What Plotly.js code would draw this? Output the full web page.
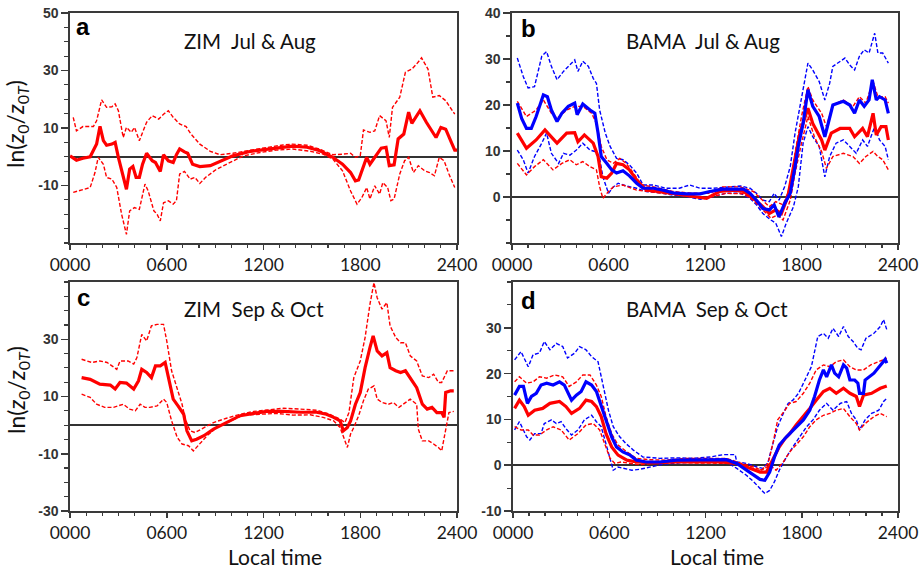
<!DOCTYPE html>
<html><head><meta charset="utf-8">
<script src="https://cdn.plot.ly/plotly-3.0.1.min.js"></script>
<style>html,body{margin:0;padding:0;background:#fff}#chart{width:919px;height:571px}</style>
</head><body><div id="chart"></div>
<script>
// ---------- axis tick labels ----------
const timeTickVals = [0, 6, 12, 18, 24];
const timeTickText = ["0000", "0600", "1200", "1800", "2400"];
const yTicksA = [-10, 10, 30, 50];
const yTicksB = [0, 10, 20, 30, 40];
const yTicksC = [-30, -10, 10, 30];
const yTicksD = [-10, 0, 10, 20, 30];
const panelTitles = ["ZIM\u00a0\u00a0Jul & Aug", "BAMA\u00a0\u00a0Jul & Aug", "ZIM\u00a0\u00a0Sep & Oct", "BAMA\u00a0\u00a0Sep & Oct"];
const panelLetters = ["a", "b", "c", "d"];

// ---------- panel a: ZIM Jul & Aug (red) ----------
const aMedX = [0,0.4,0.8,1.25,1.65,1.86,2.07,2.27,2.6,2.8,3.0,3.3,3.5,3.7,3.9,4.1,4.3,4.5,4.75,5.1,5.3,5.6,5.8,6.1,6.4,6.6,6.8,7.1,7.3,7.6,8.05,8.7,9.3,10.1,11.2,12.2,13.2,13.8,14.7,15.5,16.3,16.9,17.4,17.7,17.9,18.1,18.4,18.6,19.0,19.3,19.6,19.8,20.1,20.35,20.7,21.0,21.2,21.5,21.7,22.1,22.5,22.7,23.0,23.3,23.65,23.86,24.0];
const aMedY = [0.3,-1.2,-0.5,0,4.4,10.6,5.6,4,4.4,5,-0.2,-7.2,-11.3,-4.3,-3.4,-7.2,-7.2,-2.6,1.2,-1.4,-2,-5.1,0.7,-1.4,-2,0.7,2.7,1.7,1.2,-2.6,-3.4,-3.1,-1.6,0.3,1.9,2.7,3.5,3.7,3.3,2.1,-0.2,-2.6,-5.5,-8.4,-8.1,-4.9,-0.2,-2.6,0.7,3,3.3,-3.1,-2.8,6.2,7.9,15.5,11.6,14.3,16,12,8.5,6.7,10.2,9.6,5,2.3,2.3];
const aUpX = [0.2,0.4,0.8,1.45,1.65,1.96,2.27,2.6,2.8,3.0,3.3,3.5,3.8,4.0,4.3,4.75,5.1,5.5,5.8,6.1,6.4,6.8,7.2,7.5,8.05,8.7,9.3,10.1,11.2,12.2,13.2,13.8,14.7,15.5,16.3,16.9,17.4,17.7,18.0,18.2,18.6,18.9,19.2,19.6,19.8,20.0,20.45,20.8,21.2,21.5,21.8,22.2,22.5,22.9,23.3,23.86];
const aUpY = [13.7,9,10.5,10.5,12.5,19.8,17.2,17.4,18.4,16,6.7,10.2,8.5,10.2,5.6,12,14.3,13.1,14.8,16,13.7,11.4,10.5,7.9,4.4,1.9,0.7,1.2,2.3,3.3,4.1,4.4,4,2.6,0.7,0.9,1.2,-0.2,0.3,9.3,8.5,9,14.3,12.5,6.7,17.2,20.7,29.4,30.5,32.3,34.4,30.5,20.7,21.3,19.5,14.8];
const aLoX = [0.2,0.8,1.25,1.55,1.75,2.07,2.27,2.6,2.9,3.2,3.5,3.7,4.0,4.3,4.65,4.85,5.2,5.4,5.6,5.8,6.1,6.4,6.6,6.8,7.1,7.45,7.75,8.05,8.4,9.1,9.9,10.75,11.8,12.8,13.8,14.9,15.7,16.3,16.9,17.4,17.8,18.1,18.4,18.6,18.9,19.2,19.4,19.7,19.9,20.1,20.45,20.75,21.0,21.3,21.6,22.0,22.3,22.6,22.9,23.2,23.5,23.86];
const aLoY = [-12.4,-11.3,-10.7,-5.5,-0.2,-2.6,-7.2,-7.8,-10.7,-20,-27,-18.8,-17.7,-18.3,-9.5,-11.9,-18.8,-20,-22.3,-16,-15.3,-16.5,-15.3,-6,-5.1,-7.8,-7.2,-9.3,-7.2,-4.3,-2,0.3,1.5,2.3,2.7,1.9,0.9,-0.8,-4.9,-11.9,-16.5,-14.2,-10.7,-14.7,-10.1,-13,-9,-10.7,-15.3,-14.7,-6,-1.4,-0.2,-5.5,-3.1,-4.9,-5.5,-6.6,-0.2,-1.4,-6,-10.7];

// ---------- panel b: BAMA Jul & Aug ----------
const bBlueMedX = [0.33,0.6,0.9,1.2,1.5,1.95,2.2,2.45,2.8,3.1,3.5,3.9,4.05,4.4,4.85,5.15,5.35,5.55,5.9,6.2,6.5,6.9,7.3,7.75,8.15,8.8,9.4,10.0,10.85,11.7,12.3,13.1,13.75,14.4,14.8,15.2,15.6,16.0,16.3,16.6,16.95,17.3,17.6,17.8,18.1,18.4,18.7,19.1,19.45,19.65,19.95,20.6,21.0,21.3,21.6,21.9,22.2,22.4,22.65,22.85,23.2,23.4];
const bBlueMedY = [20.4,17.1,14.9,14.9,17.5,22.2,21.8,18.9,16.4,18.2,19.7,20.4,17.9,20.2,18.9,18.2,13.9,8.8,7.3,5.9,5.2,5.7,4.6,3,1.9,1.9,1.5,0.9,0.7,0.7,1.2,1.7,1.7,1.7,0.8,-0.7,-2.5,-2.8,-1.7,-4.3,-1.4,0.8,6.6,11,16,23.3,19.7,17.5,13.1,16,20,20.8,20,18.2,21.1,19.7,21.1,25.5,21.1,21.8,21.1,18.2];
const bRedMedX = [0.33,0.9,1.5,2.05,2.8,3.4,3.9,4.1,4.5,5.05,5.35,5.55,5.9,6.2,6.5,6.9,7.3,7.75,8.35,9.2,10.0,11.3,12.1,12.9,13.75,14.4,15.0,15.6,16.0,16.4,16.75,17.15,17.6,17.9,18.4,18.7,19.25,19.45,19.85,20.4,21.0,21.3,21.8,22.1,22.45,22.65,22.95,23.25,23.4];
const bRedMedY = [13.9,10.6,12.4,14.6,11.7,13.9,14,12,13.5,11.7,8.8,4.4,4.1,5.2,7.3,7,5.9,3.7,1.5,1.2,0.8,0.1,-0.3,1.2,1.5,1.2,-0.3,-2.1,-3.6,-2.8,-3.6,0.1,8.1,13.9,19.3,16,12.4,10.2,13.9,14.9,14.9,13.1,14.9,13.1,18.2,13.5,15.3,15.3,12.4];
const bBlueUpX = [0.33,0.7,1.0,1.4,1.85,2.15,2.45,2.8,3.2,3.6,3.9,4.1,4.4,4.75,5.05,5.25,5.45,5.8,6.1,6.5,6.9,7.3,7.75,8.15,8.8,9.6,10.4,11.05,11.7,12.5,13.3,14.2,14.8,15.2,15.6,16.0,16.3,16.6,16.95,17.3,17.6,18.0,18.4,18.7,19.1,19.45,19.75,19.95,20.4,20.7,21.0,21.3,21.6,21.9,22.2,22.55,22.75,23.05,23.4];
const bBlueUpY = [30.2,26.2,23.7,24,30.6,31.6,28.4,25.5,27.3,28.7,29.8,27.3,29.5,28.4,25.8,24.7,18.9,13.9,11,8.4,8.1,7,5.2,2.6,2.6,1.9,1.9,2.6,1.9,1.9,2.2,2.4,1.9,0.8,-0.7,-1,0.8,-0.7,2.2,6.6,13.9,21.1,29.1,27.6,25.1,21.1,24.7,28.4,29.5,30.2,28.7,27.6,30.6,32,31.3,35.6,31.3,31.3,29.1];
const bRedUpX = [0.33,0.9,1.5,1.95,2.45,2.8,3.4,3.9,4.4,4.95,5.25,5.55,5.9,6.3,6.7,7.1,7.55,8.05,8.8,10.0,11.3,12.3,13.1,14.2,15.0,15.6,16.0,16.4,16.85,17.3,17.6,18.0,18.4,18.7,19.25,19.55,19.95,20.6,21.2,21.6,22.0,22.45,22.75,23.2,23.4];
const bRedUpY = [20.8,17.5,18.9,21.1,18.2,17.1,18.9,19.7,19.7,18.2,16,11,8.1,7.3,8.4,7.3,5.2,2.6,2.2,1.2,0.8,0.8,2.2,2.2,1.2,-0.7,-2.1,-1,-1.7,2.2,9.5,17.5,24,21.1,18.2,15.3,20,21.1,19.7,21.8,20.4,25.1,21.8,21.8,20.4];
const bBlueLoX = [0.33,0.7,1.0,1.4,1.85,2.15,2.45,2.9,3.2,3.6,4.0,4.4,4.85,5.15,5.45,5.65,6.0,6.3,6.6,7.1,7.75,8.35,9.2,10.0,10.85,11.7,12.5,13.3,14.2,14.8,15.2,15.6,16.1,16.4,16.75,17.05,17.5,17.8,18.1,18.4,18.7,19.1,19.45,19.75,20.15,20.6,21.0,21.4,21.8,22.1,22.55,22.85,23.2,23.4];
const bBlueLoY = [10.2,8.1,5.2,8.8,11.7,13.9,9.5,7.3,9.5,9.1,10.2,11.7,10.2,9.9,8.4,4.4,0.8,2.2,3,2.4,1.9,1.2,0.9,0.4,0.1,-0.5,0.1,0.8,0.8,-0.3,-1.7,-3.6,-5,-5.7,-8.6,-5.7,-2.1,2.2,11.7,15.3,13.1,11,4.4,8.8,11.7,12.4,11,9.5,12.4,11,15.3,12.4,11,8.1];
const bRedLoX = [0.33,0.9,1.4,1.95,2.55,3.1,3.6,4.0,4.4,4.85,5.25,5.45,5.65,6.0,6.3,6.9,7.75,8.55,9.6,10.85,11.7,12.5,13.3,14.4,15.0,15.6,16.1,16.5,16.85,17.3,17.6,18.0,18.4,18.8,19.25,19.55,19.95,20.6,21.2,21.6,22.0,22.45,22.75,23.05,23.4];
const bRedLoY = [7.3,4.8,6.6,8.1,5.9,7.3,8.1,7,7.7,6.6,5.9,2.2,-0.3,1.2,2.2,2.6,1.5,1.2,0.8,0.2,-0.3,0.1,0.8,0.7,-0.7,-2.8,-4.6,-3.9,-5,-0.7,5.2,11.7,17.5,13.1,9.9,6.2,8.8,9.5,8.8,7.3,8.8,9.9,8.8,8.1,5.9];

// ---------- panel c: ZIM Sep & Oct (red) ----------
const cMedX = [0.72,1.25,1.85,2.5,2.8,3.1,3.5,3.95,4.25,4.45,4.75,5.05,5.3,5.6,5.9,6.1,6.4,6.7,7.05,7.25,7.55,7.85,8.3,8.9,9.7,10.55,11.4,12.2,13.25,14.3,15.3,15.9,16.35,16.75,16.95,17.2,17.4,17.7,18.0,18.3,18.6,18.8,19.05,19.35,19.65,19.85,20.2,20.5,20.8,21.1,21.5,21.85,22.15,22.45,22.75,23.05,23.2,23.3,23.6,23.8];
const cMedY = [16.6,16,14.3,14,12.6,14.9,14.7,12.6,15.5,19.5,18.4,16.6,20.7,20.7,21.9,16.6,9.1,6.7,3.8,-2,-5.5,-4.9,-3.7,-1.4,0.9,3.3,4.1,4.8,4.8,4.5,4.5,3.8,2.7,1.5,-2,-0.8,1.5,7.3,11.4,20.1,27.1,31.2,25.9,24.2,25.3,20.1,19,18.4,19,16.6,13.1,7.3,5.6,6.2,4.4,4.4,2.7,11.4,12,12];
const cUpX = [0.72,1.35,1.85,2.3,2.6,2.9,3.1,3.6,3.95,4.15,4.45,4.75,5.05,5.4,5.8,6.0,6.3,6.65,6.95,7.15,7.45,7.75,8.3,8.9,9.7,10.55,11.4,12.2,13.25,14.3,15.3,16.1,16.75,17.05,17.3,17.6,18.0,18.3,18.6,18.85,19.05,19.35,19.65,19.85,20.2,20.5,20.8,21.1,21.5,21.85,22.25,22.55,22.85,23.05,23.4,23.8];
const cUpY = [23,21.9,22.4,21.9,20.7,19.5,22.4,22.4,21.3,23.6,31.7,29.4,34.7,35.2,35.2,29.4,19,13.1,7.3,2.1,-2,-2.6,-0.8,0.9,2.4,3.8,4.8,5.2,5.9,5.6,5.2,3.8,2.1,0.9,4.4,16.6,22.4,30.6,42.2,49.8,44.5,40.5,42.8,34.7,30.6,28.8,28.8,24.2,22.4,17.2,16.6,17.8,14.9,14.9,19,19];
const cLoX = [0.72,1.25,1.65,2.15,2.7,3.0,3.3,3.7,4.05,4.35,4.65,4.95,5.4,5.8,6.0,6.3,6.65,6.95,7.35,7.65,8.1,8.5,9.1,9.95,10.75,11.8,12.8,13.85,14.9,15.7,16.35,16.75,17.05,17.2,17.4,17.6,17.9,18.2,18.5,18.85,19.05,19.35,19.75,20.05,20.4,20.8,21.1,21.5,21.6,21.85,22.25,22.55,22.85,23.05,23.3,23.5,23.8];
const cLoY = [10.8,9.7,7.3,6.2,6.2,6.7,7.3,5.6,5,7.3,6.2,6.2,6.7,9.1,7.9,1.5,-4.3,-6.6,-7.2,-9,-6,-3.7,-0.8,1.5,3.5,3.8,4.1,3.5,3.6,2.7,1.5,-0.8,-5.5,-7.8,-3.1,-0.8,3.3,8.5,12.6,13.7,9.1,7.9,7.3,7.9,6.2,7.9,9.1,7.3,-1.4,-5.5,-5.5,-6.6,-7.8,-9,-0.8,4.4,4.8];

// ---------- panel d: BAMA Sep & Oct ----------
const dBlueMedX = [0.1,0.4,0.65,0.9,1.15,1.45,1.75,2.1,2.5,2.9,3.2,3.65,3.95,4.25,4.55,4.9,5.2,5.5,5.8,6.15,6.45,6.85,7.3,7.7,8.3,9.15,10.2,11.2,12.3,13.3,13.95,14.55,15.0,15.4,15.7,16.0,16.3,16.6,17.05,17.35,17.65,18.1,18.5,18.8,19.1,19.35,19.55,19.85,20.05,20.3,20.6,20.8,21.0,21.3,21.5,21.6,21.85,21.95,22.5,22.9,23.2,23.3];
const dBlueMedY = [15.3,17.2,17.2,13.5,15,15.7,17.5,17.9,17.5,18.2,17.5,14.2,15.3,16.1,18.2,17.5,16.1,12.8,9.9,6.2,4,2.9,2.2,1.1,0.7,0.7,1.1,1.1,1.1,1.2,0.4,-1.1,-2.2,-3.1,-3.3,-1.5,1.8,4.4,6.2,7.3,8.4,9.9,12,15,18.6,20.8,19.3,21.9,20.1,19.3,21.9,21.2,18.6,18.6,17.9,15.7,15.7,18.6,20.1,21.9,23.1,22.3];
const dRedMedX = [0.1,0.4,0.7,0.95,1.35,1.85,2.3,2.9,3.3,3.65,4.15,4.55,4.9,5.2,5.5,5.8,6.15,6.55,7.1,7.7,8.7,10.2,11.65,12.9,13.95,14.75,15.4,15.8,16.2,16.6,16.95,17.25,17.65,18.1,18.5,18.9,19.35,19.75,20.15,20.6,21.0,21.4,21.6,21.85,22.35,22.9,23.3];
const dRedMedY = [12.4,14.2,12.8,10.9,12,12.4,13.5,13.9,12.8,11.3,12.4,14.2,13.9,12.8,10.6,6.9,4,2.2,1.1,0.7,0.5,0.7,0.7,0.7,0.4,-0.7,-1.5,-1.5,1.1,4,5.8,6.9,8.8,10.6,12.4,14.2,16.1,16.8,15.7,16.8,15.7,15,12.8,15.3,15.7,16.8,17.3];
const dBlueUpX = [0.1,0.5,0.95,1.25,1.65,1.95,2.3,2.7,3.1,3.4,3.85,4.15,4.55,4.9,5.3,5.6,5.95,6.25,6.65,7.05,7.5,8.1,9.15,10.2,11.2,12.3,13.1,13.85,13.95,14.55,15.2,15.6,15.9,16.2,16.5,16.85,17.15,17.45,17.8,18.2,18.6,19.0,19.35,19.65,19.95,20.3,20.6,20.9,21.2,21.5,21.7,22.0,22.5,22.9,23.1,23.3];
const dBlueUpY = [23,24.8,21.5,24.1,24.5,27,25.2,26.6,25.9,23.4,24.5,25.9,25.2,23.7,22.6,17.9,12,8.4,6.2,4.7,3.3,1.8,1.5,1.6,1.5,1.8,2.3,2.3,0.7,0.4,-0.4,-0.7,0.7,4.7,8.4,11.3,13.5,14.2,15.7,18.6,21.5,28.1,28.8,27.7,29.9,28.1,30.3,28.1,27,25.5,25.2,27.7,28.8,30.3,31.8,29.6];
const dRedUpX = [0.1,0.4,0.85,1.25,1.65,2.1,2.6,3.1,3.5,3.95,4.35,4.8,5.2,5.5,5.8,6.15,6.55,7.1,7.7,8.5,9.55,10.8,12.1,13.3,14.15,15.0,15.5,15.9,16.2,16.5,16.95,17.25,17.65,18.1,18.5,18.9,19.35,19.75,20.15,20.6,21.0,21.4,21.85,22.3,22.8,23.3];
const dRedUpY = [18.2,19.3,17.9,18.2,19.3,19,19.7,19.3,17.2,18.2,19.7,19.7,17.5,15,10.6,6.9,4.4,2.9,1.5,1.2,1.1,1.5,1.5,1.5,0.5,-0.4,-1.1,0.4,4.7,9.9,12,13.5,13.9,15.7,17.9,20.8,21.9,21.5,22.6,23,21.5,20.8,20.8,21.9,22.6,23.4];
const dBlueLoX = [0.1,0.4,0.85,1.05,1.35,1.75,1.95,2.4,2.7,3.0,3.3,3.65,4.05,4.45,4.9,5.2,5.5,5.8,6.05,6.25,6.55,7.0,7.4,7.9,8.5,9.35,10.4,11.45,12.5,13.3,13.95,14.55,15.0,15.4,15.7,16.0,16.3,16.6,17.05,17.45,17.9,18.3,18.7,19.1,19.55,19.95,20.4,20.8,21.1,21.4,21.6,21.95,22.35,22.8,23.1,23.3];
const dBlueLoY = [7.7,9.5,6.2,5.5,6.9,6.9,9.1,9.9,9.1,9.5,8,6.6,7.7,9.9,10.9,9.5,8.4,4.7,1.1,-1.1,-0.4,-0.7,-1.1,-0.9,-0.4,0.2,0.5,0.7,0.7,0.7,-0.7,-2.2,-3.6,-5.1,-6.2,-5.5,-3.6,-1.1,1.8,4,6.2,8.4,9.9,12,13.5,12,13.5,13.9,11.3,9.9,7.7,9.9,11.3,12,13.9,14.6];
const dRedLoX = [0.1,0.5,0.95,1.25,1.65,2.1,2.5,3.0,3.5,4.05,4.55,5.0,5.4,5.7,6.05,6.35,6.75,7.3,7.9,8.7,9.95,11.2,12.5,13.7,14.55,15.2,15.6,16.0,16.4,16.85,17.25,17.65,18.1,18.5,18.9,19.35,19.75,20.15,20.6,21.0,21.4,21.6,21.95,22.5,22.9,23.3];
const dRedLoY = [8.4,7.7,7.7,6.6,6.6,7.7,8.4,7.7,5.5,6.9,8.8,9.1,7.7,4.7,1.5,0.4,0.7,0.4,0.1,0.4,0.7,0.5,0.5,0.4,-0.4,-1.1,-0.9,0,-1.1,0.7,2.9,4.4,6.2,8.4,9.9,10.9,11.3,12,12.4,10.6,9.1,7.7,9.1,10.6,11.3,10.6];

// ---------- styling ----------
const RED = "rgb(255,0,0)";
const BLUE = "rgb(0,0,255)";
function thin(x, y, color, ax) {
  return {x: x, y: y, xaxis: "x" + ax, yaxis: "y" + ax, mode: "lines", showlegend: false, hoverinfo: "skip",
          line: {color: color, width: 1.4, dash: "4px,2px"}};
}
function thick(x, y, color, ax) {
  return {x: x, y: y, xaxis: "x" + ax, yaxis: "y" + ax, mode: "lines", showlegend: false, hoverinfo: "skip",
          line: {color: color, width: 3.2}};
}

const traces = [
  thin(aUpX, aUpY, RED, ""), thin(aLoX, aLoY, RED, ""), thick(aMedX, aMedY, RED, ""),
  thin(bBlueUpX, bBlueUpY, BLUE, "2"), thin(bBlueLoX, bBlueLoY, BLUE, "2"),
  thin(bRedUpX, bRedUpY, RED, "2"), thin(bRedLoX, bRedLoY, RED, "2"),
  thick(bRedMedX, bRedMedY, RED, "2"), thick(bBlueMedX, bBlueMedY, BLUE, "2"),
  thin(cUpX, cUpY, RED, "3"), thin(cLoX, cLoY, RED, "3"), thick(cMedX, cMedY, RED, "3"),
  thin(dBlueUpX, dBlueUpY, BLUE, "4"), thin(dBlueLoX, dBlueLoY, BLUE, "4"),
  thin(dRedUpX, dRedUpY, RED, "4"), thin(dRedLoX, dRedLoY, RED, "4"),
  thick(dRedMedX, dRedMedY, RED, "4"), thick(dBlueMedX, dBlueMedY, BLUE, "4")
];

const AXC = "#3a3a3a";
function xAx(domain, anchor) {
  return {domain: domain, anchor: anchor, range: [0, 24], tickmode: "array", tickvals: timeTickVals, ticktext: timeTickText,
          showline: true, mirror: true, linecolor: AXC, linewidth: 1.6, showgrid: false, zeroline: false,
          ticks: "outside", ticklen: 5, tickwidth: 1.5, tickcolor: AXC,
          minor: {dtick: 1, tick0: 0, ticks: "outside", ticklen: 3, tickwidth: 1.2, tickcolor: AXC, showgrid: false},
          tickfont: {family: "Lato, 'Open Sans', sans-serif", size: 17.5, color: "#1a1a1a"}, fixedrange: true};
}
function yAx(domain, anchor, range, vals) {
  return {domain: domain, anchor: anchor, range: range, tickmode: "array", tickvals: vals, ticktext: vals.map(String),
          showline: true, mirror: true, linecolor: AXC, linewidth: 1.6, showgrid: false,
          zeroline: true, zerolinecolor: "#333", zerolinewidth: 1.6,
          ticks: "outside", ticklen: 7, tickwidth: 1.5, tickcolor: AXC,
          minor: {dtick: 5, tick0: 0, ticks: "outside", ticklen: 4, tickwidth: 1.2, tickcolor: AXC, showgrid: false},
          tickfont: {family: "'Liberation Sans', Arial, sans-serif", size: 14, color: "#333", weight: "bold"}, fixedrange: true};
}

const W = 919, H = 571;
const px = v => v / W, py = v => 1 - v / H;
const dAx = [px(70), px(457)], dBx = [px(512), px(898)], dDx = [px(513), px(898)];
const topY = [py(243), py(13)], botY = [py(511), py(282)];

const annFont = {family: "Lato, 'Open Sans', sans-serif", size: 20.5, color: "#111"};
const letterFont = {family: "'Liberation Sans', Arial, sans-serif", size: 24, color: "#000", weight: "bold"};
const yTitle = "ln(<i>z</i><sub>0</sub>/<i>z</i><sub>0<i>T</i></sub>)";

const annotations = [
  {text: panelLetters[0], x: px(83), y: py(27)}, {text: panelLetters[1], x: px(528), y: py(29)},
  {text: panelLetters[2], x: px(83), y: py(297)}, {text: panelLetters[3], x: px(528), y: py(300)}
].map(a => Object.assign(a, {xref: "paper", yref: "paper", showarrow: false, font: letterFont, xanchor: "center", yanchor: "middle"}));

[[panelTitles[0], 250, 41], [panelTitles[1], 703, 41], [panelTitles[2], 254, 309], [panelTitles[3], 707, 309]].forEach(t => {
  annotations.push({text: t[0], x: px(t[1]), y: py(t[2]), xref: "paper", yref: "paper", showarrow: false, font: annFont, xanchor: "center", yanchor: "middle"});
});
[[275], [717]].forEach(t => {
  annotations.push({text: "Local time", x: px(t[0]), y: py(556), xref: "paper", yref: "paper", showarrow: false,
    font: {family: "Lato, 'Open Sans', sans-serif", size: 21, color: "#111"}, xanchor: "center", yanchor: "middle"});
});
[[124], [390]].forEach(t => {
  annotations.push({text: yTitle, x: px(17), y: py(t[0]), xref: "paper", yref: "paper", showarrow: false, textangle: -90,
    font: {family: "Lato, 'Open Sans', sans-serif", size: 23, color: "#111"}, xanchor: "center", yanchor: "middle"});
});

const layout = {
  width: W, height: H, margin: {l: 0, r: 0, t: 0, b: 0}, paper_bgcolor: "#fff", plot_bgcolor: "#fff", showlegend: false,
  xaxis: xAx(dAx, "y"), yaxis: yAx(topY, "x", [-30, 50], yTicksA),
  xaxis2: xAx(dBx, "y2"), yaxis2: yAx(topY, "x2", [-10, 40], yTicksB),
  xaxis3: xAx(dAx, "y3"), yaxis3: yAx(botY, "x3", [-30, 50], yTicksC),
  xaxis4: xAx(dDx, "y4"), yaxis4: yAx(botY, "x4", [-10, 40], yTicksD),
  annotations: annotations
};

Plotly.newPlot("chart", traces, layout, {displayModeBar: false, staticPlot: true});
</script></body></html>
